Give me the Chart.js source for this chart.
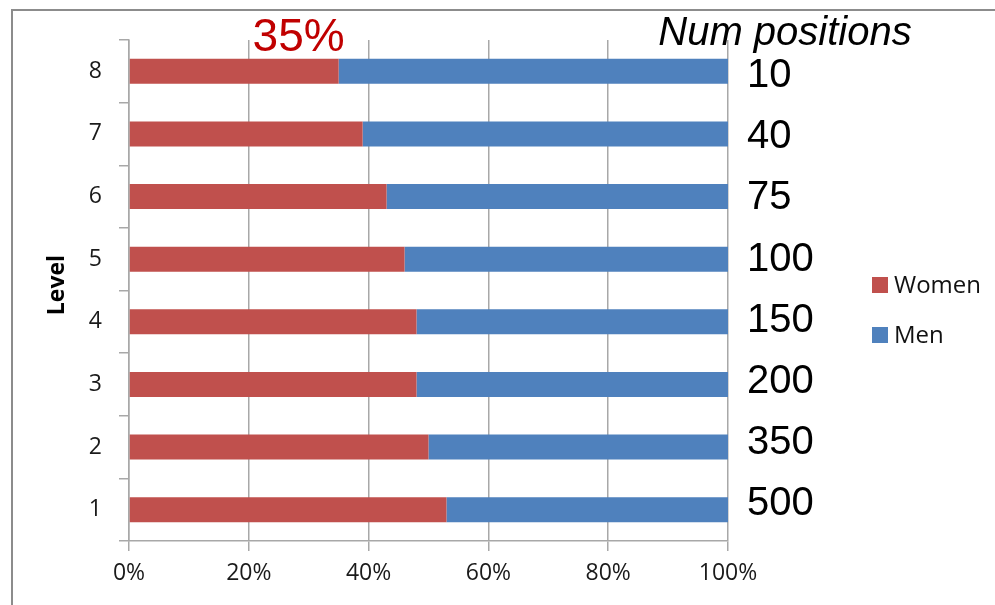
<!DOCTYPE html>
<html>
<head>
<meta charset="utf-8">
<script src="https://cdn.jsdelivr.net/npm/chart.js@4"></script>
<style>
  html, body { margin: 0; padding: 0; background: #ffffff; }
  #wrap { width: 995px; height: 605px; position: relative; }
</style>
</head>
<body>
<div id="wrap"><canvas id="levelChart"></canvas></div>
<script>
// levels listed top to bottom
const levels = ['8', '7', '6', '5', '4', '3', '2', '1'];
const women = [35, 39, 43, 46, 48, 48, 50, 53];
const men = [65, 61, 57, 54, 52, 52, 50, 47];
const numPositions = ['10', '40', '75', '100', '150', '200', '350', '500'];
const xTicks = [0, 20, 40, 60, 80, 100];

const WOMEN_COLOR = '#C0504D';
const MEN_COLOR = '#4F81BD';
const GRID_COLOR = '#A8A8A8';

// frame, legend and the text annotations
const extrasPlugin = {
  id: 'extras',
  afterDraw(chart) {
    const ctx = chart.ctx;
    const x = chart.scales.x;
    const y = chart.scales.y;
    ctx.save();

    // outer frame (top and left edge visible)
    ctx.strokeStyle = '#8C8C8C';
    ctx.lineWidth = 2;
    ctx.beginPath();
    ctx.moveTo(12, 610);
    ctx.lineTo(12, 10);
    ctx.lineTo(1000, 10);
    ctx.stroke();

    // share label over the top bar
    ctx.fillStyle = '#C00000';
    ctx.font = '46px "Liberation Sans", Arial, sans-serif';
    ctx.textAlign = 'right';
    ctx.textBaseline = 'middle';
    ctx.fillText(women[0] + '%', x.getPixelForValue(women[0]) + 6, 38);

    // number of positions per level
    ctx.fillStyle = '#000000';
    ctx.font = 'italic 40px "Liberation Sans", Arial, sans-serif';
    ctx.textAlign = 'center';
    ctx.fillText('Num positions', 785, 34);

    ctx.font = '40px "Liberation Sans", Arial, sans-serif';
    ctx.textAlign = 'left';
    const first = y.getPixelForValue(0) + 5;
    const step = (y.getPixelForValue(levels.length - 1) - 6 - first) / (levels.length - 1);
    numPositions.forEach((n, i) => {
      ctx.fillText(n, x.right + 19, first + i * step);
    });

    // legend
    const items = [['Women', WOMEN_COLOR, 285], ['Men', MEN_COLOR, 335]];
    ctx.font = '24px "Open Sans", sans-serif';
    items.forEach(([label, color, cy]) => {
      ctx.fillStyle = color;
      ctx.fillRect(872, cy - 8, 16, 16);
      ctx.fillStyle = '#111111';
      ctx.fillText(label, 894, cy + 1);
    });

    // axis title
    ctx.fillStyle = '#000000';
    ctx.font = 'bold 23px "Open Sans", sans-serif';
    ctx.textAlign = 'center';
    ctx.translate(57, 285);
    ctx.rotate(-Math.PI / 2);
    ctx.fillText('Level', 0, 0);

    ctx.restore();
  }
};

new Chart(document.getElementById('levelChart').getContext('2d'), {
  type: 'bar',
  data: {
    labels: levels,
    datasets: [
      {
        label: 'Women',
        data: women,
        backgroundColor: WOMEN_COLOR,
        borderWidth: 0,
      },
      {
        label: 'Men',
        data: men,
        backgroundColor: MEN_COLOR,
        borderWidth: 0,
      }
    ],
  },
  options: {
    animation: false,
    responsive: true,
    maintainAspectRatio: false,
    indexAxis: 'y',
    barPercentage: 0.4,
    categoryPercentage: 1,
    layout: {
      padding: { left: 40, top: 40, right: 267, bottom: 0 },
    },
    plugins: {
      legend: { display: false },
      tooltip: { enabled: false },
    },
    scales: {
      x: {
        stacked: true,
        min: 0,
        max: 100,
        afterBuildTicks: (scale) => {
          scale.ticks = xTicks.map(v => ({ value: v }));
        },
        afterFit: (scale) => { scale.height = 64; },
        grid: {
          color: GRID_COLOR,
          lineWidth: 1.5,
          tickLength: 10,
        },
        border: { color: GRID_COLOR, width: 1.5 },
        ticks: {
          padding: 9,
          color: '#1a1a1a',
          font: { family: 'Open Sans', size: 23 },
          callback: (v) => v + '%',
          maxRotation: 0,
        },
      },
      y: {
        stacked: true,
        afterFit: (scale) => { scale.width = 89; },
        grid: {
          offset: true,
          drawOnChartArea: false,
          color: GRID_COLOR,
          lineWidth: 1.5,
          tickLength: 10,
        },
        border: { color: GRID_COLOR, width: 1.5 },
        ticks: {
          padding: 17,
          color: '#1a1a1a',
          font: { family: 'Open Sans', size: 23 },
        },
      },
    },
  },
  plugins: [extrasPlugin],
});
</script>
</body>
</html>
